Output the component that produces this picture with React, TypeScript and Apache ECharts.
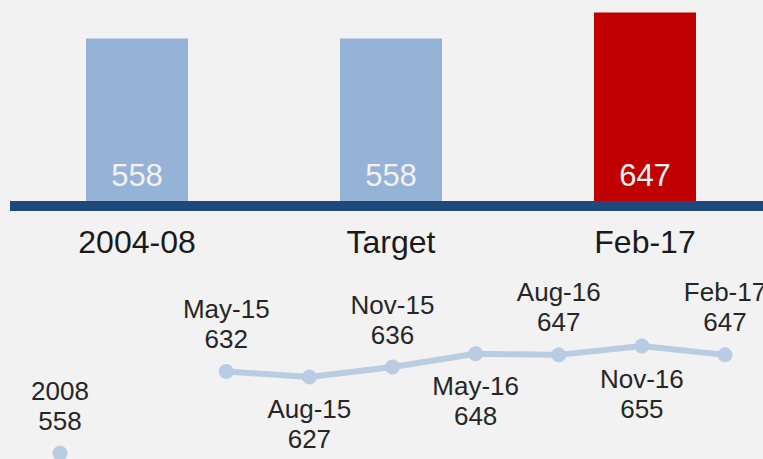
import React, { useEffect, useRef } from "react";
import * as echarts from "echarts";

const barCategories = ["2004-08", "Target", "Feb-17"];
const barValues = [558, 558, 647];
const barColors = ["#95b3d7", "#95b3d7", "#c00000"];

const lineCategories = ["2008", "", "May-15", "Aug-15", "Nov-15", "May-16", "Aug-16", "Nov-16", "Feb-17"];
const lineValues: (number | null)[] = [558, null, 632, 627, 636, 648, 647, 655, 647];
const labelPositions = ["top", "top", "top", "bottom", "top", "bottom", "top", "bottom", "top"];

const FONT = "'Liberation Sans', Arial, sans-serif";

export default function App() {
  const ref = useRef<HTMLDivElement>(null);
  useEffect(() => {
    if (!ref.current) return;
    const chart = echarts.init(ref.current, undefined, { renderer: "svg" });
    chart.setOption({
      animation: false,
      backgroundColor: "#f2f2f2",
      textStyle: { fontFamily: FONT },
      grid: [
        { left: 10, right: 8, top: 0, bottom: 269, containLabel: false },
        { left: 60, right: 55, top: 340.5, bottom: 7.9, containLabel: false },
      ],
      xAxis: [
        {
          type: "category",
          gridIndex: 0,
          data: barCategories,
          offset: 5,
          axisLine: { show: true, onZero: false, lineStyle: { color: "#1f497d", width: 10, cap: "butt" } },
          axisTick: { show: false },
          axisLabel: { color: "#1a1a1a", fontSize: 32, margin: 20, fontFamily: FONT },
        },
        {
          type: "category",
          gridIndex: 1,
          data: lineCategories,
          boundaryGap: false,
          show: false,
        },
      ],
      yAxis: [
        { type: "value", gridIndex: 0, min: 0, max: 690, show: false },
        { type: "value", gridIndex: 1, min: 550, max: 660, show: false },
      ],
      series: [
        {
          type: "bar",
          xAxisIndex: 0,
          yAxisIndex: 0,
          barWidth: 102,
          data: barValues.map((v, i) => ({ value: v, itemStyle: { color: barColors[i] } })),
          label: {
            show: true,
            position: "insideBottom",
            distance: 10,
            color: "#f2f2f2",
            fontSize: 31,
            fontFamily: FONT,
          },
          z: 3,
        },
        {
          type: "line",
          xAxisIndex: 1,
          yAxisIndex: 1,
          data: lineValues.map((v, i) => ({
            value: v,
            label: { position: labelPositions[i] },
          })),
          connectNulls: false,
          symbol: "circle",
          symbolSize: 15,
          lineStyle: { color: "#b8cce4", width: 6 },
          itemStyle: { color: "#b8cce4" },
          label: {
            show: true,
            formatter: "{b}\n{c}",
            color: "#262626",
            fontSize: 26,
            lineHeight: 30,
            distance: 10,
            fontFamily: FONT,
          },
        },
      ],
    });
    return () => chart.dispose();
  }, []);
  return (
    <div
      ref={ref}
      style={{ position: "fixed", left: 0, top: 0, width: 780, height: 470 }}
    />
  );
}
